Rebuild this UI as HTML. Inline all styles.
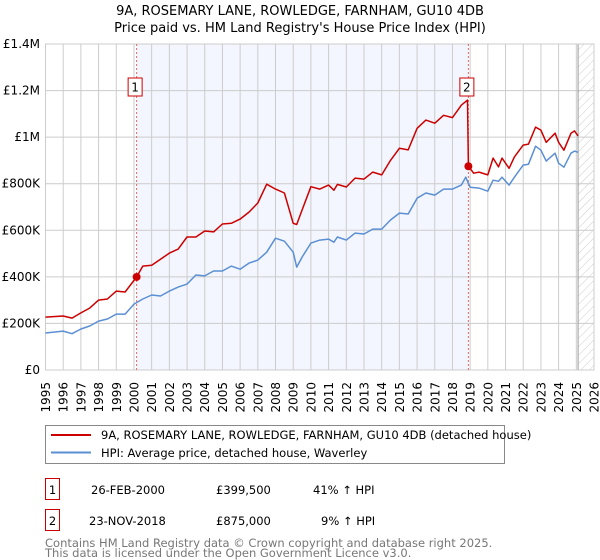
<!DOCTYPE html>
<html><head><meta charset="utf-8"><style>
body{margin:0;background:#fff;font-family:"DejaVu Sans","Liberation Sans",sans-serif;}
svg{display:block}
</style></head><body>
<svg id="c" width="600" height="560" xmlns="http://www.w3.org/2000/svg" font-family="DejaVu Sans, Liberation Sans, sans-serif">
<defs><pattern id="hatch" width="6" height="6" patternUnits="userSpaceOnUse" patternTransform="rotate(45)"><line x1="0" y1="0" x2="0" y2="6" stroke="#ccc" stroke-width="1"/></pattern></defs>
<text x="300" y="15" text-anchor="middle" font-size="13">9A, ROSEMARY LANE, ROWLEDGE, FARNHAM, GU10 4DB</text>
<text x="300" y="32" text-anchor="middle" font-size="13">Price paid vs. HM Land Registry's House Price Index (HPI)</text>
<g id="plot"></g>
<g>
<rect x="45.5" y="425.5" width="459" height="38" fill="#fff" stroke="#888"/>
<line x1="51" y1="435" x2="91" y2="435" stroke="#cc0000" stroke-width="2"/>
<text x="101" y="439" font-size="11.5">9A, ROSEMARY LANE, ROWLEDGE, FARNHAM, GU10 4DB (detached house)</text>
<line x1="51" y1="452.5" x2="91" y2="452.5" stroke="#5b8fd4" stroke-width="2"/>
<text x="101" y="457" font-size="11.5">HPI: Average price, detached house, Waverley</text>
</g>
<g font-size="11.5">
<rect x="45.5" y="478.5" width="14" height="21" fill="#fff" stroke="#cc0000"/><text x="52.5" y="494" text-anchor="middle">1</text>
<text x="91" y="494">26-FEB-2000</text><text x="216" y="494">£399,500</text><text x="313" y="494">41% ↑ HPI</text>
<rect x="45.5" y="509.5" width="14" height="21" fill="#fff" stroke="#cc0000"/><text x="52.5" y="525" text-anchor="middle">2</text>
<text x="89" y="525">23-NOV-2018</text><text x="216" y="525">£875,000</text><text x="321" y="525">9% ↑ HPI</text>
</g>
<g font-size="11.5" fill="#777">
<text x="45" y="547">Contains HM Land Registry data © Crown copyright and database right 2025.</text>
<text x="45" y="557">This data is licensed under the Open Government Licence v3.0.</text>
</g>
</svg>
<script>
const redYears=[1995,1996,1996.5,1997,1997.5,1998,1998.5,1999,1999.5,2000.15,2000.5,2001,2001.5,2002,2002.5,2003,2003.5,2004,2004.5,2005,2005.5,2006,2006.5,2007,2007.5,2008,2008.5,2009,2009.2,2009.5,2010,2010.5,2011,2011.3,2011.5,2012,2012.5,2013,2013.5,2014,2014.5,2015,2015.5,2016,2016.5,2017,2017.5,2018,2018.5,2018.85,2018.9,2019.2,2019.5,2020,2020.3,2020.6,2020.8,2021.2,2021.5,2022,2022.3,2022.7,2023,2023.3,2023.8,2024,2024.3,2024.7,2024.9,2025.1];
const redValues=[227,232,223,245,266,300,305,339,335,399.5,446,450,476,502,519,571,571,597,593,627,630,648,678,717,798,777,760,630,625,687,787,777,794,772,797,786,824,820,850,838,900,952,945,1038,1073,1060,1094,1084,1137,1159,875,845,850,838,910,872,910,866,915,966,970,1043,1030,978,1017,978,944,1017,1027,1005];
const hpiYears=[1995,1996,1996.5,1997,1997.5,1998,1998.5,1999,1999.5,2000,2000.5,2001,2001.5,2002,2002.5,2003,2003.5,2004,2004.5,2005,2005.5,2006,2006.5,2007,2007.5,2008,2008.5,2009,2009.2,2009.5,2010,2010.5,2011,2011.3,2011.5,2012,2012.5,2013,2013.5,2014,2014.5,2015,2015.5,2016,2016.5,2017,2017.5,2018,2018.5,2018.75,2019,2019.5,2020,2020.3,2020.6,2020.8,2021.2,2021.5,2022,2022.3,2022.7,2023,2023.3,2023.8,2024,2024.3,2024.7,2024.9,2025.1];
const hpiValues=[159,167,156,176,189,210,219,240,240,283,305,322,318,339,356,369,408,404,425,425,446,433,459,472,506,566,553,506,442,485,545,558,562,549,571,558,588,584,605,605,644,674,670,738,760,751,777,777,794,828,785,781,768,815,811,828,794,828,880,884,961,944,897,931,888,871,931,940,935];
const yTicks=[0,200,400,600,800,1000,1200,1400];
const yTickLabels=["£0","£200K","£400K","£600K","£800K","£1M","£1.2M","£1.4M"];
const xTicks=[1995,1996,1997,1998,1999,2000,2001,2002,2003,2004,2005,2006,2007,2008,2009,2010,2011,2012,2013,2014,2015,2016,2017,2018,2019,2020,2021,2022,2023,2024,2025,2026];
const saleYears=[2000.15,2018.9];
const saleValues=[399.5,875];
const saleLabels=["1","2"];
const L=45.5,R=594,T=44,B=370;
const X=y=>L+(y-1995)*(R-L)/31;
const Y=v=>B-v*(B-T)/1400;
const NS="http://www.w3.org/2000/svg";
const g=document.getElementById('plot');
function mk(tag,attrs,parent){const e=document.createElementNS(NS,tag);for(const k in attrs)e.setAttribute(k,attrs[k]);(parent||g).appendChild(e);return e;}
let e;
e=mk('rect',{x:X(saleYears[0]),y:T,width:X(saleYears[1])-X(saleYears[0]),height:B-T,fill:'#eef2fd',opacity:0.7});


e=mk('rect',{x:X(2025.1),y:T,width:R-X(2025.1),height:B-T,fill:'url(#hatch)'});


xTicks.forEach(t=>{e=mk('line',{x1:X(t),x2:X(t),y1:T,y2:B,stroke:'#ccc','stroke-width':1});


const tx=X(t)+4.5,ty=382;
e=mk('text',{x:tx,y:ty,'text-anchor':'end','font-size':12,transform:'rotate(-90 '+tx+' '+ty+')'});e.textContent=t;

});
yTicks.forEach((t,i)=>{e=mk('line',{x1:L,x2:R,y1:Y(t),y2:Y(t),stroke:'#ccc','stroke-width':1});


e=mk('text',{x:40,y:Y(t)+4,'text-anchor':'end','font-size':12});e.textContent=yTickLabels[i];

});
e=mk('line',{x1:X(2025.1),x2:X(2025.1),y1:T,y2:B,stroke:'#999','stroke-width':1});


e=mk('rect',{x:L,y:T,width:R-L,height:B-T,fill:'none',stroke:'#ccc'});


saleYears.forEach((s,i)=>{e=mk('line',{x1:X(s),x2:X(s),y1:T,y2:B,stroke:'#e06666','stroke-width':1,'stroke-dasharray':'2,2'});

});
const pts=(xs,vs)=>xs.map((x,i)=>X(x).toFixed(1)+','+Y(vs[i]).toFixed(1)).join(' ');
e=mk('polyline',{points:pts(hpiYears,hpiValues),fill:'none',stroke:'#5b8fd4','stroke-width':1.5,'stroke-linejoin':'round'});


e=mk('polyline',{points:pts(redYears,redValues),fill:'none',stroke:'#cc0000','stroke-width':1.5,'stroke-linejoin':'round'});


saleYears.forEach((s,i)=>{e=mk('circle',{cx:X(s),cy:Y(saleValues[i]),r:4,fill:'#cc0000'});


e=mk('rect',{x:X(s)-8.5,y:78,width:14,height:18,fill:'#fff',stroke:'#cc0000'});


e=mk('text',{x:X(s)-1.5,y:91.5,'text-anchor':'middle','font-size':12});e.textContent=saleLabels[i];

});
</script>
</body></html>
